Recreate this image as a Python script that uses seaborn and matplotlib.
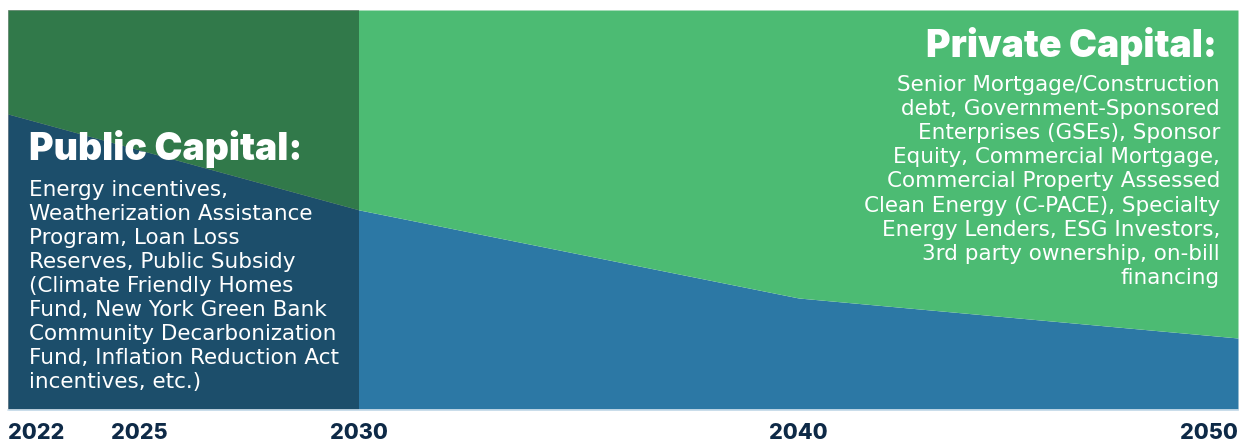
import matplotlib
matplotlib.use("Agg")
import matplotlib.pyplot as plt
import seaborn as sns
import numpy as np

years = [2022, 2025, 2030, 2040, 2050]
public_share = [74, 65, 50, 28, 18]
private_share = [100 - v for v in public_share]
tick_labels = ["2022", "2025", "2030", "2040", "2050"]
near_term = [2022, 2030]

public_title = "Public Capital:"
public_text = ["Energy incentives,", "Weatherization Assistance", "Program, Loan Loss",
               "Reserves, Public Subsidy", "(Climate Friendly Homes",
               "Fund, New York Green Bank", "Community Decarbonization",
               "Fund, Inflation Reduction Act", "incentives, etc.)"]
private_title = "Private Capital:"
private_text = ["Senior Mortgage/Construction", "debt, Government-Sponsored",
                "Enterprises (GSEs), Sponsor", "Equity, Commercial Mortgage,",
                "Commercial Property Assessed", "Clean Energy (C-PACE), Specialty",
                "Energy Lenders, ESG Investors,", "3rd party ownership, on-bill",
                "financing"]

sns.set_theme(style="white")
plt.rcParams['font.family'] = ['DejaVu Sans']

W, H = 1252, 443
fig = plt.figure(figsize=(W / 100, H / 100), dpi=100)
ax = fig.add_axes([8 / W, 33 / H, 1230 / W, 400 / H])

blue = "#2C78A5"
green = "#4CBB73"
ax.stackplot(years, public_share, private_share, colors=[blue, green], linewidth=0)
ax.axvspan(near_term[0], near_term[1], color="black", alpha=0.35, linewidth=0)

ax.set_xlim(years[0], years[-1])
ax.set_ylim(0, 100)
ax.set_yticks([])
ax.set_xticks(years)
ax.set_xticklabels(tick_labels, fontsize=15.5, fontweight="heavy", color="#0E2A47",
                   family="Inter")
labels = ax.get_xticklabels()
labels[0].set_horizontalalignment("left")
labels[-1].set_horizontalalignment("right")
ax.tick_params(axis="x", length=0, pad=9.5)
for s in ["top", "left", "right"]:
    ax.spines[s].set_visible(False)
ax.spines["bottom"].set_color("#D5E5F0")
ax.spines["bottom"].set_linewidth(1.2)

def px(x, y):
    return (x - 8) / 1230, (410 - y) / 400

renderer = fig.canvas.get_renderer()

def fitted_title(x, y, s, ha, target_w):
    t = ax.text(x, y, s, transform=ax.transAxes, fontsize=26, color="white",
                family="Inter", fontweight="black", ha=ha, va="center")
    w = t.get_window_extent(renderer).width
    t.set_fontsize(26 * target_w / w)
    return t

tx, ty = px(29, 149)
fitted_title(tx, ty, public_title, "left", 273)
for i, line in enumerate(public_text):
    tx, ty = px(29, 190 + 24 * i)
    ax.text(tx, ty, line, transform=ax.transAxes, fontsize=15.5, color="white",
            ha="left", va="center")

tx, ty = px(1217, 46)
fitted_title(tx, ty, private_title, "right", 291)
for i, line in enumerate(private_text):
    tx, ty = px(1220, 85 + 24.1 * i)
    ax.text(tx, ty, line, transform=ax.transAxes, fontsize=15.5, color="white",
            ha="right", va="center")

fig.savefig("out.png", dpi=100, facecolor="white")
